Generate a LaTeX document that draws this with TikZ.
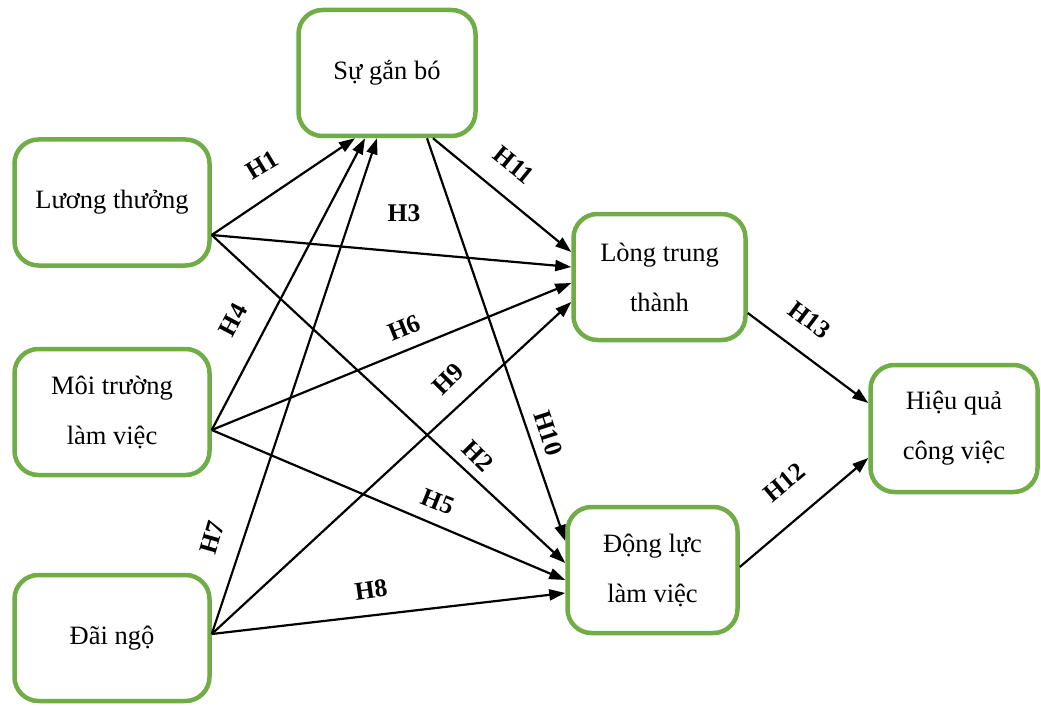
\documentclass[tikz,border=0pt]{standalone}
\usepackage{fontspec}
\setmainfont{Liberation Serif}
\usetikzlibrary{arrows.meta,calc}
\definecolor{boxgreen}{RGB}{112,173,71}
\begin{document}
\begin{tikzpicture}[x=1pt,y=-1pt,
  box/.style={draw=boxgreen, line width=4.5pt, rounded corners=24pt, align=center, font=\fontsize{26.5}{50}\selectfont, inner sep=0pt},
  arr/.style={-{Triangle[length=16pt,width=11pt]}, line width=2.2pt},
  hl/.style={font=\bfseries\fontsize{25.5}{25}\selectfont, inner sep=0pt}]
\useasboundingbox (0,0) rectangle (1041,706);
% boxes
\node[box, minimum width=195pt, minimum height=126pt] (lt) at (112,202.5) {Lương thưởng};
\node[box, minimum width=195pt, minimum height=126pt] (mt) at (112,412) {Môi trường\\làm việc};
\node[box, minimum width=195pt, minimum height=126pt] (dn) at (112,638) {Đãi ngộ};
\node[box, minimum width=177pt, minimum height=126pt] (sgb) at (387,73) {Sự gắn bó};
\node[box, minimum width=172pt, minimum height=126pt] (ltt) at (659.5,277) {Lòng trung\\thành};
\node[box, minimum width=170pt, minimum height=126pt] (dl) at (652.5,570) {Động lực\\làm việc};
\node[box, minimum width=167pt, minimum height=127pt] (hq) at (954,428.5) {Hiệu quả\\công việc};
% connectors
\draw[arr] ([yshift=-32.5pt]lt.east) -- ([xshift=-32pt]sgb.south); % H1
\draw[arr] ([yshift=-32.5pt]lt.east) -- ([yshift=10pt]ltt.west); % H3
\draw[arr] ([yshift=-32.5pt]lt.east) -- ([yshift=7pt]dl.west); % H2
\draw[arr] ([yshift=-18pt]mt.east) -- ([xshift=-22pt]sgb.south); % H4
\draw[arr] ([yshift=-18pt]mt.east) -- ([yshift=-6pt]ltt.west); % H6
\draw[arr] ([yshift=-18pt]mt.east) -- ([yshift=-10pt]dl.west); % H5
\draw[arr] ([yshift=4pt]dn.east) -- ([xshift=-10pt]sgb.south); % H7
\draw[arr] ([yshift=4pt]dn.east) -- ([yshift=-25pt]ltt.west); % H9
\draw[arr] ([yshift=4pt]dn.east) -- ([yshift=-23pt]dl.west); % H8
\draw[arr] ([xshift=46pt]sgb.south) -- ([yshift=25pt]ltt.west); % H11
\draw[arr] ([xshift=40pt]sgb.south) -- ([yshift=29pt]dl.west); % H10
\draw[arr] ([yshift=-36pt]ltt.east) -- ([yshift=25.5pt]hq.west); % H13
\draw[arr] ([yshift=3pt]dl.east) -- ([yshift=-29.5pt]hq.west); % H12
% labels
\node[hl, rotate=31] (h1) at (262,165) {H1};
\node[hl] (h3) at (404,213) {H3};
\node[hl, rotate=-39] (h11) at (514,165) {H11};
\node[hl, rotate=62] (h4) at (233,320) {H4};
\node[hl, rotate=22] (h6) at (404,328) {H6};
\node[hl, rotate=45] (h9) at (448,379) {H9};
\node[hl, rotate=-45] (h2) at (478,456) {H2};
\node[hl, rotate=-72] (h10) at (548,433) {H10};
\node[hl, rotate=-22] (h5) at (438,502) {H5};
\node[hl, rotate=8] (h8) at (371,590) {H8};
\node[hl, rotate=74] (h7) at (212,538) {H7};
\node[hl, rotate=-37] (h13) at (810,320) {H13};
\node[hl, rotate=40] (h12) at (784,482) {H12};
\end{tikzpicture}
\end{document}
